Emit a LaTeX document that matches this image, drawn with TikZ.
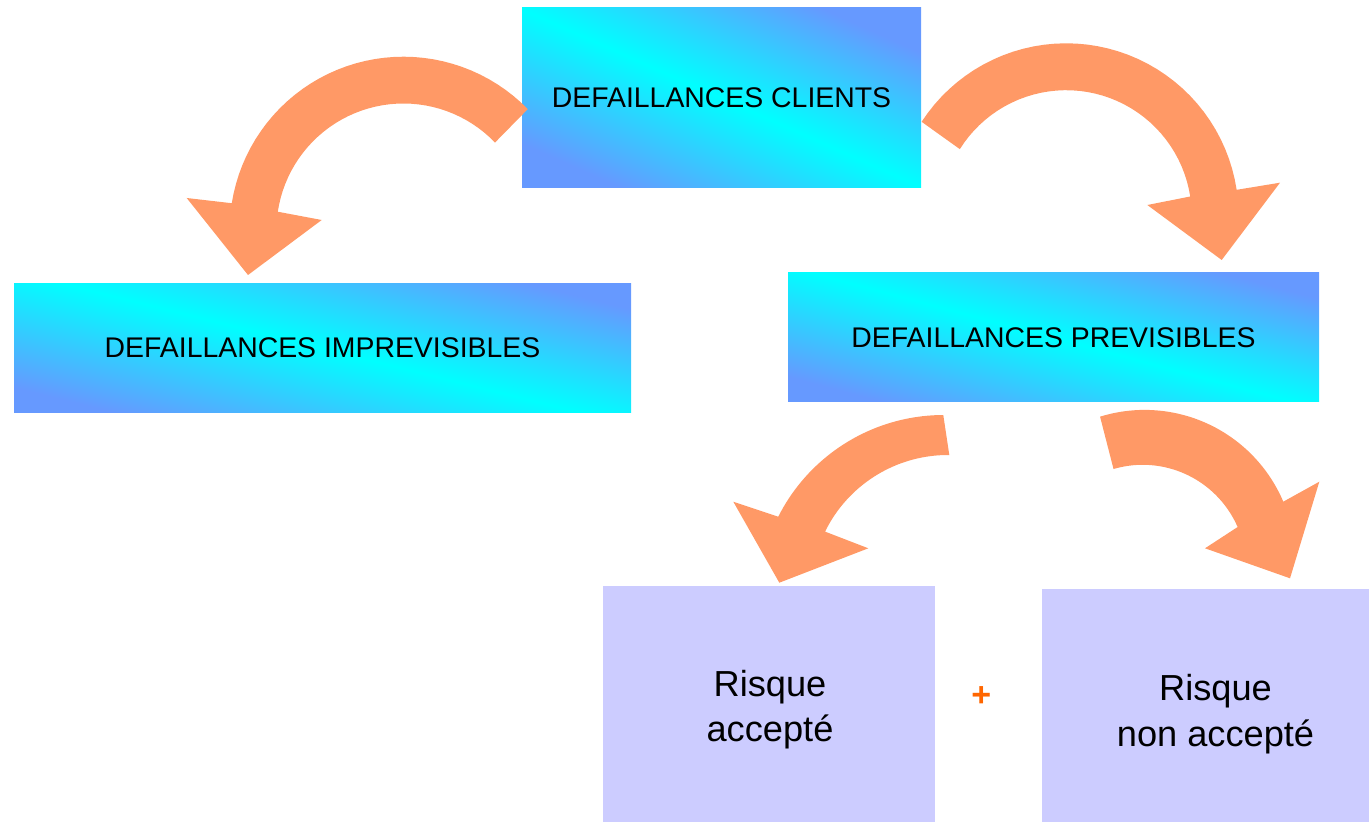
\documentclass[tikz,border=0pt]{standalone}
\usepackage{fontspec}
\setmainfont{Liberation Sans}
\definecolor{gblue}{HTML}{6699FF}
\definecolor{gcyan}{HTML}{00FFFF}
\definecolor{arrowc}{HTML}{FF9966}
\definecolor{riskc}{HTML}{CCCCFF}
\definecolor{plusc}{HTML}{FF6600}
\begin{document}
\begin{tikzpicture}[x=0.5pt,y=-0.5pt,
  gradbox/.style={rectangle, inner sep=0pt, outer sep=0pt, draw=none,
    top color=gblue, bottom color=gblue, middle color=gcyan,
    font=\fontsize{14.2}{17}\selectfont},
  riskbox/.style={rectangle, inner sep=0pt, outer sep=0pt, draw=none, fill=riskc},
  risktxt/.style={inner sep=0pt, outer sep=0pt, font=\fontsize{18.1}{22.5}\selectfont},
  bendarrow/.style={fill=arrowc, draw=none},
  plussign/.style={inner sep=0pt, text=plusc, font=\fontsize{17}{20}\selectfont\bfseries}]
\useasboundingbox (0,0) rectangle (1369,822);

% boxes
\node[gradbox, shading angle=-24, minimum width=199.5pt, minimum height=90pt] (clients) at (721.5,98) {DEFAILLANCES CLIENTS};
\node[gradbox, shading angle=-14, minimum width=308.5pt, minimum height=64.25pt] (imprev) at (322.5,348.2) {DEFAILLANCES IMPREVISIBLES};
\node[gradbox, shading angle=-15, minimum width=265.5pt, minimum height=64.5pt] (prev) at (1053.5,337.5) {DEFAILLANCES PREVISIBLES};
\node[riskbox, minimum width=166pt, minimum height=118pt] (risk1) at (769,704) {};
\node[riskbox, minimum width=163.5pt, minimum height=116.5pt] (risk2) at (1205.5,705.5) {};

\node[risktxt, anchor=base] (r1a) at (770,696.7) {Risque};
\node[risktxt, anchor=base] (r1b) at (770,741.7) {accepté};
\node[risktxt, anchor=base] (r2a) at (1215.5,700) {Risque};
\node[risktxt, anchor=base] (r2b) at (1215.5,746) {non accepté};
\node[plussign] (plus) at (981.3,697) {+};

% curved arrows (circular bands with triangular heads)
\fill[bendarrow]
  plot[domain=0:1, samples=40, variable=\t] ({403.4+173.8*cos(-44.3-126.7*\t)}, {230.5+173.8*sin(-44.3-126.7*\t)})
  -- (186.7,198) -- (248,275) -- (321.7,220)
  -- plot[domain=0:1, samples=40, variable=\t] ({403.4+127*cos(-171.5+127.7*\t)}, {230.5+127*sin(-171.5+127.7*\t)})
  -- cycle;

\fill[bendarrow]
  plot[domain=0:1, samples=40, variable=\t] ({1066.2+172.4*cos(-147+138.4*\t)}, {215.7+172.4*sin(-147+138.4*\t)})
  -- (1280,182.7) -- (1221.7,260) -- (1147.3,205)
  -- plot[domain=0:1, samples=40, variable=\t] ({1066.2+125.5*cos(-8.8-139.2*\t)}, {215.7+125.5*sin(-8.8-139.2*\t)})
  -- cycle;

\fill[bendarrow]
  plot[domain=0:1, samples=40, variable=\t] ({943.6+185.3*cos(-90.1-63.1*\t)}, {600.3+185.3*sin(-90.1-63.1*\t)})
  -- (733.3,501.7) -- (779.3,582.7) -- (868.3,548.3)
  -- plot[domain=0:1, samples=40, variable=\t] ({947.9+136.8*cos(-153.9+64.5*\t)}, {591.8+136.8*sin(-153.9+64.5*\t)})
  -- cycle;

\fill[bendarrow]
  plot[domain=0:1, samples=40, variable=\t] ({1144.6+150.7*cos(-107.2+84.2*\t)}, {560.6+150.7*sin(-107.2+84.2*\t)})
  -- (1319.3,481.7) -- (1290,578.3) -- (1205,548.3)
  -- plot[domain=0:1, samples=40, variable=\t] ({1142.7+103.5*cos(-23.5-82.9*\t)}, {568.3+103.5*sin(-23.5-82.9*\t)})
  -- cycle;
\end{tikzpicture}
\end{document}
